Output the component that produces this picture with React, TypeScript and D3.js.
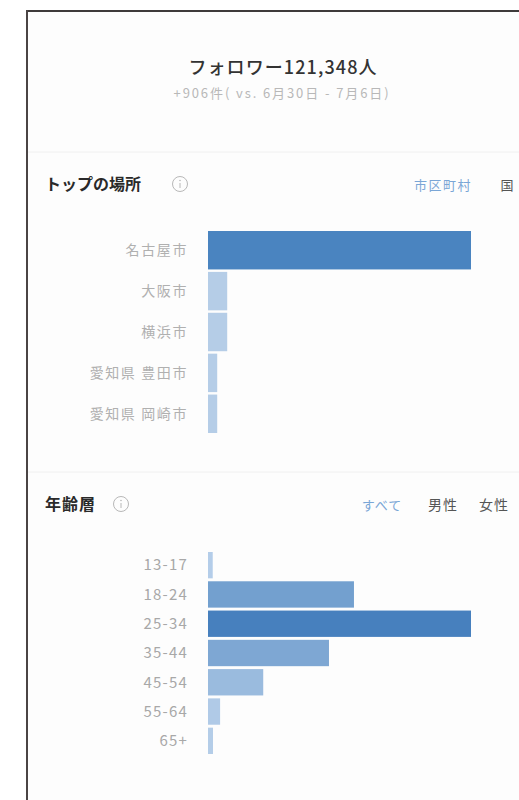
import React from "react";
import * as d3 from "d3";

const titleText = "フォロワー121,348人";
const subtitleText = "+906件( vs. 6月30日 - 7月6日)";

const locSectionTitle = "トップの場所";
const locTabs = ["市区町村", "国"];
const locCategories = ["名古屋市", "大阪市", "横浜市", "愛知県 豊田市", "愛知県 岡崎市"];
const locValues = [100, 7.3, 7.3, 3.5, 3.5];

const ageSectionTitle = "年齢層";
const ageTabs = ["すべて", "男性", "女性"];
const ageCategories = ["13-17", "18-24", "25-34", "35-44", "45-54", "55-64", "65+"];
const ageValues = [1.8, 55.5, 100, 46, 21, 4.6, 1.9];

const FONT = "'Noto Sans CJK JP', 'Noto Sans', sans-serif";

export default function App() {
  const W = 519;
  const H = 800;
  const barX0 = 208;
  const barX1 = 471;

  const x = d3.scaleLinear().domain([0, 100]).range([barX0, barX1]);
  const color = d3
    .scalePow()
    .exponent(0.85)
    .domain([0, 100])
    .range(["#b8d0ea", "#4780be"] as any)
    .interpolate(d3.interpolateRgb as any) as any;

  const yLoc = d3.scaleBand().domain(locCategories).range([231, 433]).paddingInner(0.06).paddingOuter(0);
  const yAge = d3.scaleBand().domain(ageCategories).range([552, 754]).paddingInner(0.1).paddingOuter(0);

  const infoIcon = (cx: number, cy: number) => (
    <g>
      <circle cx={cx} cy={cy} r={7.5} fill="none" stroke="#b8b8b8" strokeWidth={1} />
      <line x1={cx} y1={cy - 1} x2={cx} y2={cy + 4} stroke="#b8b8b8" strokeWidth={1} />
      <circle cx={cx} cy={cy - 3.5} r={0.8} fill="#b8b8b8" />
    </g>
  );

  return (
    <svg width={W} height={H} style={{ position: "absolute", left: 0, top: 0, background: "#ffffff" }} fontFamily={FONT}>
      <rect x={0} y={0} width={W} height={H} fill="#ffffff" />
      <rect x={27} y={11} width={W} height={H} fill="#fdfdfd" />
      {/* frame */}
      <line x1={27} y1={11} x2={W} y2={11} stroke="#3e3a3a" strokeWidth={2} />
      <line x1={27} y1={10} x2={27} y2={H} stroke="#4a4444" strokeWidth={2} />

      {/* header */}
      <text x={283} y={74} textAnchor="middle" fontSize={18} letterSpacing={1.1} fill="#333" fontWeight={500}>
        {titleText}
      </text>
      <text x={282} y={98} textAnchor="middle" fontSize={13} letterSpacing={1.9} fill="#b8b8b8">
        {subtitleText}
      </text>
      <line x1={28} y1={152} x2={W} y2={152} stroke="#f0f0f0" strokeWidth={1} />

      {/* location section */}
      <text x={45} y={190} fontSize={16} fontWeight={700} fill="#2a2a2a">
        {locSectionTitle}
      </text>
      {infoIcon(180, 184)}
      <text x={443} y={190} textAnchor="middle" fontSize={13} letterSpacing={1.5} fill="#7aa6d6">
        {locTabs[0]}
      </text>
      <text x={507} y={190} textAnchor="middle" fontSize={13} fill="#555">
        {locTabs[1]}
      </text>
      {locCategories.map((c, i) => (
        <g key={c}>
          <rect
            x={barX0}
            y={yLoc(c)!}
            width={x(locValues[i]) - barX0}
            height={yLoc.bandwidth()}
            fill={i === 0 ? "#4a84c0" : "#b5cde7"}
          />
          <text
            x={188}
            y={yLoc(c)! + yLoc.bandwidth() / 2}
            dy="0.35em"
            textAnchor="end"
            fontSize={14}
            letterSpacing={1.6}
            fill="#b0b0b0"
          >
            {c}
          </text>
        </g>
      ))}

      <line x1={28} y1={472} x2={W} y2={472} stroke="#f0f0f0" strokeWidth={1} />

      {/* age section */}
      <text x={45} y={510} fontSize={16} letterSpacing={1} fontWeight={700} fill="#2a2a2a">
        {ageSectionTitle}
      </text>
      {infoIcon(121, 504)}
      <text x={382} y={510} textAnchor="middle" fontSize={13} letterSpacing={1} fill="#7aa6d6">
        {ageTabs[0]}
      </text>
      <text x={443} y={510} textAnchor="middle" fontSize={14} letterSpacing={1} fill="#555">
        {ageTabs[1]}
      </text>
      <text x={494} y={510} textAnchor="middle" fontSize={14} letterSpacing={1} fill="#555">
        {ageTabs[2]}
      </text>
      {ageCategories.map((c, i) => (
        <g key={c}>
          <rect
            x={barX0}
            y={yAge(c)!}
            width={Math.max(3, x(ageValues[i]) - barX0)}
            height={yAge.bandwidth()}
            fill={color(ageValues[i])}
          />
          <text
            x={188}
            y={yAge(c)! + yAge.bandwidth() / 2}
            dy="0.35em"
            textAnchor="end"
            fontSize={15}
            letterSpacing={1.2}
            fill="#a8a8a8"
          >
            {c}
          </text>
        </g>
      ))}
    </svg>
  );
}
